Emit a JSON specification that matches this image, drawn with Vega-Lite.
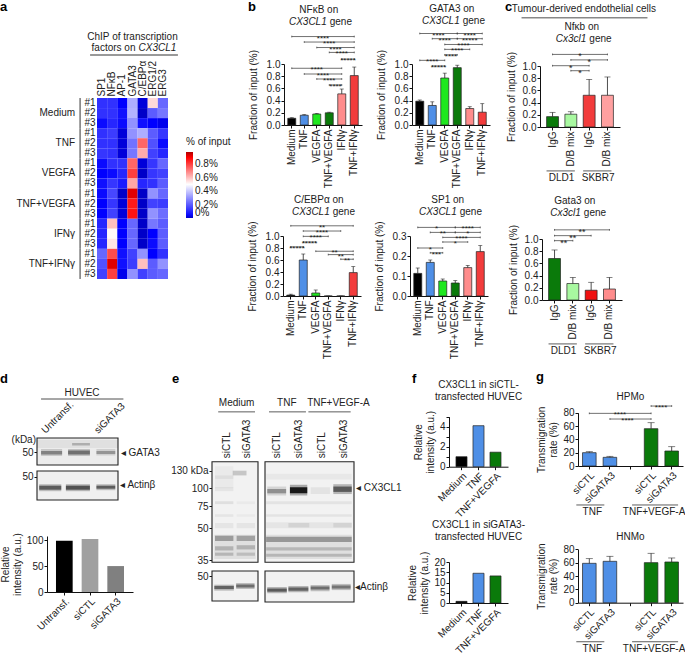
{"$schema":"https://vega.github.io/schema/vega-lite/v6.json","padding":0,"background":"#ffffff","columns":5,"align":"none","bounds":"flush","spacing":0,"center":false,
"resolve":{"scale":{"color":"independent"}},
"config":{"font":"Liberation Sans","view":{"stroke":null},"text":{"fontSize":10,"color":"#222222"},"axis":{"grid":false,"domainColor":"#111111","tickColor":"#111111","labelColor":"#222222","titleColor":"#222222","labelFontSize":10,"titleFontSize":10,"titleFontWeight":"normal","tickSize":3,"labelPadding":1,"labelLimit":0},"legend":{"labelFontSize":10,"titleFontSize":10,"titleFontWeight":"normal","labelColor":"#222222","titleColor":"#222222"},"title":{"color":"#000000","fontWeight":"bold","fontSize":13,"anchor":"start","frame":"group"}},
"datasets":{
"heat":[
{"row":"Medium #1","tf":"SP1","v":0.12},{"row":"Medium #1","tf":"NFκB","v":0.12},{"row":"Medium #1","tf":"AP-1","v":0.03},{"row":"Medium #1","tf":"GATA3","v":0.35},{"row":"Medium #1","tf":"C/EBPα","v":0.01},{"row":"Medium #1","tf":"ERG1/2","v":0.56},{"row":"Medium #1","tf":"ERG3","v":0.22},
{"row":"Medium #2","tf":"SP1","v":0.12},{"row":"Medium #2","tf":"NFκB","v":0.12},{"row":"Medium #2","tf":"AP-1","v":0.06},{"row":"Medium #2","tf":"GATA3","v":0.36},{"row":"Medium #2","tf":"C/EBPα","v":0.0},{"row":"Medium #2","tf":"ERG1/2","v":0.2},{"row":"Medium #2","tf":"ERG3","v":0.25},
{"row":"Medium #3","tf":"SP1","v":0.05},{"row":"Medium #3","tf":"NFκB","v":0.1},{"row":"Medium #3","tf":"AP-1","v":0.05},{"row":"Medium #3","tf":"GATA3","v":0.3},{"row":"Medium #3","tf":"C/EBPα","v":0.06},{"row":"Medium #3","tf":"ERG1/2","v":0.03},{"row":"Medium #3","tf":"ERG3","v":0.02},
{"row":"TNF #1","tf":"SP1","v":0.12},{"row":"TNF #1","tf":"NFκB","v":0.14},{"row":"TNF #1","tf":"AP-1","v":0.01},{"row":"TNF #1","tf":"GATA3","v":0.3},{"row":"TNF #1","tf":"C/EBPα","v":0.35},{"row":"TNF #1","tf":"ERG1/2","v":0.2},{"row":"TNF #1","tf":"ERG3","v":0.13},
{"row":"TNF #2","tf":"SP1","v":0.12},{"row":"TNF #2","tf":"NFκB","v":0.12},{"row":"TNF #2","tf":"AP-1","v":0.01},{"row":"TNF #2","tf":"GATA3","v":0.24},{"row":"TNF #2","tf":"C/EBPα","v":0.74},{"row":"TNF #2","tf":"ERG1/2","v":0.18},{"row":"TNF #2","tf":"ERG3","v":0.05},
{"row":"TNF #3","tf":"SP1","v":0.13},{"row":"TNF #3","tf":"NFκB","v":0.12},{"row":"TNF #3","tf":"AP-1","v":0.01},{"row":"TNF #3","tf":"GATA3","v":0.25},{"row":"TNF #3","tf":"C/EBPα","v":0.63},{"row":"TNF #3","tf":"ERG1/2","v":0.15},{"row":"TNF #3","tf":"ERG3","v":0.1},
{"row":"VEGFA #1","tf":"SP1","v":0.05},{"row":"VEGFA #1","tf":"NFκB","v":0.12},{"row":"VEGFA #1","tf":"AP-1","v":0.12},{"row":"VEGFA #1","tf":"GATA3","v":0.74},{"row":"VEGFA #1","tf":"C/EBPα","v":0.01},{"row":"VEGFA #1","tf":"ERG1/2","v":0.13},{"row":"VEGFA #1","tf":"ERG3","v":0.22},
{"row":"VEGFA #2","tf":"SP1","v":0.03},{"row":"VEGFA #2","tf":"NFκB","v":0.05},{"row":"VEGFA #2","tf":"AP-1","v":0.1},{"row":"VEGFA #2","tf":"GATA3","v":0.8},{"row":"VEGFA #2","tf":"C/EBPα","v":0.0},{"row":"VEGFA #2","tf":"ERG1/2","v":0.13},{"row":"VEGFA #2","tf":"ERG3","v":0.15},
{"row":"VEGFA #3","tf":"SP1","v":0.06},{"row":"VEGFA #3","tf":"NFκB","v":0.13},{"row":"VEGFA #3","tf":"AP-1","v":0.08},{"row":"VEGFA #3","tf":"GATA3","v":0.64},{"row":"VEGFA #3","tf":"C/EBPα","v":0.1},{"row":"VEGFA #3","tf":"ERG1/2","v":0.12},{"row":"VEGFA #3","tf":"ERG3","v":0.2},
{"row":"TNF+VEGFA #1","tf":"SP1","v":0.05},{"row":"TNF+VEGFA #1","tf":"NFκB","v":0.16},{"row":"TNF+VEGFA #1","tf":"AP-1","v":0.0},{"row":"TNF+VEGFA #1","tf":"GATA3","v":0.93},{"row":"TNF+VEGFA #1","tf":"C/EBPα","v":0.0},{"row":"TNF+VEGFA #1","tf":"ERG1/2","v":0.3},{"row":"TNF+VEGFA #1","tf":"ERG3","v":0.22},
{"row":"TNF+VEGFA #2","tf":"SP1","v":0.03},{"row":"TNF+VEGFA #2","tf":"NFκB","v":0.13},{"row":"TNF+VEGFA #2","tf":"AP-1","v":0.01},{"row":"TNF+VEGFA #2","tf":"GATA3","v":0.86},{"row":"TNF+VEGFA #2","tf":"C/EBPα","v":0.0},{"row":"TNF+VEGFA #2","tf":"ERG1/2","v":0.15},{"row":"TNF+VEGFA #2","tf":"ERG3","v":0.14},
{"row":"TNF+VEGFA #3","tf":"SP1","v":0.03},{"row":"TNF+VEGFA #3","tf":"NFκB","v":0.15},{"row":"TNF+VEGFA #3","tf":"AP-1","v":0.01},{"row":"TNF+VEGFA #3","tf":"GATA3","v":0.87},{"row":"TNF+VEGFA #3","tf":"C/EBPα","v":0.0},{"row":"TNF+VEGFA #3","tf":"ERG1/2","v":0.3},{"row":"TNF+VEGFA #3","tf":"ERG3","v":0.23},
{"row":"IFNγ #1","tf":"SP1","v":0.1},{"row":"IFNγ #1","tf":"NFκB","v":0.6},{"row":"IFNγ #1","tf":"AP-1","v":0.03},{"row":"IFNγ #1","tf":"GATA3","v":0.22},{"row":"IFNγ #1","tf":"C/EBPα","v":0.0},{"row":"IFNγ #1","tf":"ERG1/2","v":0.25},{"row":"IFNγ #1","tf":"ERG3","v":0.2},
{"row":"IFNγ #2","tf":"SP1","v":0.1},{"row":"IFNγ #2","tf":"NFκB","v":0.51},{"row":"IFNγ #2","tf":"AP-1","v":0.03},{"row":"IFNγ #2","tf":"GATA3","v":0.22},{"row":"IFNγ #2","tf":"C/EBPα","v":0.0},{"row":"IFNγ #2","tf":"ERG1/2","v":0.03},{"row":"IFNγ #2","tf":"ERG3","v":0.2},
{"row":"IFNγ #3","tf":"SP1","v":0.1},{"row":"IFNγ #3","tf":"NFκB","v":0.54},{"row":"IFNγ #3","tf":"AP-1","v":0.03},{"row":"IFNγ #3","tf":"GATA3","v":0.22},{"row":"IFNγ #3","tf":"C/EBPα","v":0.0},{"row":"IFNγ #3","tf":"ERG1/2","v":0.05},{"row":"IFNγ #3","tf":"ERG3","v":0.2},
{"row":"TNF+IFNγ #1","tf":"SP1","v":0.22},{"row":"TNF+IFNγ #1","tf":"NFκB","v":0.78},{"row":"TNF+IFNγ #1","tf":"AP-1","v":0.06},{"row":"TNF+IFNγ #1","tf":"GATA3","v":0.15},{"row":"TNF+IFNγ #1","tf":"C/EBPα","v":0.3},{"row":"TNF+IFNγ #1","tf":"ERG1/2","v":0.03},{"row":"TNF+IFNγ #1","tf":"ERG3","v":0.12},
{"row":"TNF+IFNγ #2","tf":"SP1","v":0.18},{"row":"TNF+IFNγ #2","tf":"NFκB","v":0.93},{"row":"TNF+IFNγ #2","tf":"AP-1","v":0.06},{"row":"TNF+IFNγ #2","tf":"GATA3","v":0.14},{"row":"TNF+IFNγ #2","tf":"C/EBPα","v":0.6},{"row":"TNF+IFNγ #2","tf":"ERG1/2","v":0.2},{"row":"TNF+IFNγ #2","tf":"ERG3","v":0.3},
{"row":"TNF+IFNγ #3","tf":"SP1","v":0.15},{"row":"TNF+IFNγ #3","tf":"NFκB","v":0.8},{"row":"TNF+IFNγ #3","tf":"AP-1","v":0.02},{"row":"TNF+IFNγ #3","tf":"GATA3","v":0.3},{"row":"TNF+IFNγ #3","tf":"C/EBPα","v":0.15},{"row":"TNF+IFNγ #3","tf":"ERG1/2","v":0.2},{"row":"TNF+IFNγ #3","tf":"ERG3","v":0.22}],
"heatBr":[{"row":"Medium #1","end":"Medium #3","tf":"SP1"},{"row":"TNF #1","end":"TNF #3","tf":"SP1"},{"row":"VEGFA #1","end":"VEGFA #3","tf":"SP1"},{"row":"TNF+VEGFA #1","end":"TNF+VEGFA #3","tf":"SP1"},{"row":"IFNγ #1","end":"IFNγ #3","tf":"SP1"},{"row":"TNF+IFNγ #1","end":"TNF+IFNγ #3","tf":"SP1"}],
"heatG":[{"row":"Medium #2","tf":"SP1","g":"Medium"},{"row":"TNF #2","tf":"SP1","g":"TNF"},{"row":"VEGFA #2","tf":"SP1","g":"VEGFA"},{"row":"TNF+VEGFA #2","tf":"SP1","g":"TNF+VEGFA"},{"row":"IFNγ #2","tf":"SP1","g":"IFNγ"},{"row":"TNF+IFNγ #2","tf":"SP1","g":"TNF+IFNγ"}],
"heatT":[{"row":"Medium #1","tf":"GATA3","a":"ChIP of transcription","b":"factors on","c":"CX3CL1"}],
"heatL":[{"row":"Medium #1","tf":"SP1","tf2":"ERG3"}],
"b1":[{"x":"Medium","y":0.11,"hi":0.12},{"x":"TNF","y":0.16,"hi":0.17},{"x":"VEGFA","y":0.18,"hi":0.19},{"x":"TNF+VEGFA","y":0.2,"hi":0.21},{"x":"IFNγ","y":0.51,"hi":0.59},{"x":"TNF+IFNγ","y":0.81,"hi":0.95}],
"b1b":[{"id":1,"x":"Medium","y":1.45},{"id":1,"x":"TNF+IFNγ","y":1.45},{"id":2,"x":"TNF","y":1.36},{"id":2,"x":"TNF+IFNγ","y":1.36},{"id":3,"x":"VEGFA","y":1.27},{"id":3,"x":"TNF+IFNγ","y":1.27},{"id":4,"x":"TNF+VEGFA","y":1.19},{"id":4,"x":"TNF+IFNγ","y":1.19},{"id":5,"x":"IFNγ","y":1.08},{"id":5,"x":"TNF+IFNγ","y":1.08},{"id":6,"x":"Medium","y":0.93},{"id":6,"x":"IFNγ","y":0.93},{"id":7,"x":"TNF","y":0.836},{"id":7,"x":"IFNγ","y":0.836},{"id":8,"x":"VEGFA","y":0.754},{"id":8,"x":"IFNγ","y":0.754},{"id":9,"x":"TNF+VEGFA","y":0.656},{"id":9,"x":"IFNγ","y":0.656}],
"b1s":[{"x":"VEGFA","y":1.45,"s":"****","h":true},{"x":"TNF+VEGFA","y":1.36,"s":"****","h":false},{"x":"TNF+VEGFA","y":1.27,"s":"****","h":true},{"x":"IFNγ","y":1.19,"s":"****","h":false},{"x":"IFNγ","y":1.08,"s":"*****","h":true},{"x":"VEGFA","y":0.93,"s":"****","h":false},{"x":"VEGFA","y":0.836,"s":"****","h":true},{"x":"TNF+VEGFA","y":0.754,"s":"****","h":false},{"x":"TNF+VEGFA","y":0.656,"s":"****","h":true}],
"b1t":[{"x":"VEGFA","y":1.89,"a":"NFκB on","b":"CX3CL1"}],
"b2":[{"x":"Medium","y":0.39,"hi":0.41},{"x":"TNF","y":0.32,"hi":0.38},{"x":"VEGFA","y":0.77,"hi":0.85},{"x":"TNF+VEGFA","y":0.94,"hi":0.98},{"x":"IFNγ","y":0.27,"hi":0.3},{"x":"TNF+IFNγ","y":0.21,"hi":0.35}],
"b2b":[{"id":1,"x":"Medium","y":1.5},{"id":1,"x":"TNF+VEGFA","y":1.5},{"id":2,"x":"TNF+VEGFA","y":1.5},{"id":2,"x":"TNF+IFNγ","y":1.5},{"id":3,"x":"TNF","y":1.415},{"id":3,"x":"TNF+VEGFA","y":1.415},{"id":4,"x":"TNF+VEGFA","y":1.415},{"id":4,"x":"TNF+IFNγ","y":1.415},{"id":5,"x":"VEGFA","y":1.32},{"id":5,"x":"TNF+IFNγ","y":1.32},{"id":6,"x":"VEGFA","y":1.24},{"id":6,"x":"IFNγ","y":1.24},{"id":7,"x":"VEGFA","y":1.15},{"id":7,"x":"TNF+VEGFA","y":1.15},{"id":8,"x":"Medium","y":1.06},{"id":8,"x":"VEGFA","y":1.06},{"id":9,"x":"TNF","y":0.967},{"id":9,"x":"VEGFA","y":0.967}],
"b2s":[{"x":"TNF","y":1.5,"s":"****","h":true},{"x":"IFNγ","y":1.5,"s":"****","h":false},{"x":"VEGFA","y":1.415,"s":"****","h":false},{"x":"IFNγ","y":1.415,"s":"*****","h":false},{"x":"TNF+VEGFA","y":1.32,"s":"****","h":true},{"x":"TNF+VEGFA","y":1.24,"s":"****","h":false},{"x":"VEGFA","y":1.15,"s":"****","h":true},{"x":"TNF","y":1.06,"s":"****","h":false},{"x":"TNF","y":0.967,"s":"*****","h":true}],
"b2t":[{"x":"VEGFA","y":1.895,"a":"GATA3 on","b":"CX3CL1"}],
"b3":[{"x":"Medium","y":0.015,"hi":0.03},{"x":"TNF","y":0.6,"hi":0.7},{"x":"VEGFA","y":0.05,"hi":0.1},{"x":"TNF+VEGFA","y":0,"hi":0},{"x":"IFNγ","y":0,"hi":0},{"x":"TNF+IFNγ","y":0.39,"hi":0.49}],
"b3b":[{"id":1,"x":"Medium","y":1.17},{"id":1,"x":"TNF+IFNγ","y":1.17},{"id":2,"x":"TNF","y":1.083},{"id":2,"x":"IFNγ","y":1.083},{"id":3,"x":"TNF","y":0.994},{"id":3,"x":"TNF+VEGFA","y":0.994},{"id":4,"x":"TNF","y":0.9},{"id":4,"x":"VEGFA","y":0.9},{"id":5,"x":"Medium","y":0.818},{"id":5,"x":"TNF","y":0.818},{"id":6,"x":"VEGFA","y":0.746},{"id":6,"x":"TNF+IFNγ","y":0.746},{"id":7,"x":"TNF+VEGFA","y":0.69},{"id":7,"x":"TNF+IFNγ","y":0.69},{"id":8,"x":"IFNγ","y":0.613},{"id":8,"x":"TNF+IFNγ","y":0.613}],
"b3s":[{"x":"VEGFA","y":1.17,"s":"**","h":true},{"x":"VEGFA","y":1.083,"s":"****","h":true},{"x":"VEGFA","y":0.994,"s":"****","h":false},{"x":"TNF","y":0.9,"s":"*****","h":true},{"x":"Medium","y":0.818,"s":"*****","h":true},{"x":"TNF+VEGFA","y":0.746,"s":"**","h":true},{"x":"IFNγ","y":0.69,"s":"**","h":false},{"x":"IFNγ","y":0.613,"s":"**","h":true}],
"b3t":[{"x":"VEGFA","y":1.6,"a":"C/EBPα on","b":"CX3CL1"}],
"b4":[{"x":"Medium","y":0.113,"hi":0.14},{"x":"TNF","y":0.168,"hi":0.18},{"x":"VEGFA","y":0.075,"hi":0.085},{"x":"TNF+VEGFA","y":0.065,"hi":0.077},{"x":"IFNγ","y":0.142,"hi":0.153},{"x":"TNF+IFNγ","y":0.222,"hi":0.252}],
"b4b":[{"id":1,"x":"Medium","y":0.343},{"id":1,"x":"TNF+VEGFA","y":0.343},{"id":2,"x":"TNF+VEGFA","y":0.343},{"id":2,"x":"TNF+IFNγ","y":0.343},{"id":3,"x":"TNF","y":0.318},{"id":3,"x":"TNF+VEGFA","y":0.318},{"id":4,"x":"TNF+VEGFA","y":0.318},{"id":4,"x":"TNF+IFNγ","y":0.318},{"id":5,"x":"VEGFA","y":0.293},{"id":5,"x":"TNF+IFNγ","y":0.293},{"id":6,"x":"VEGFA","y":0.27},{"id":6,"x":"IFNγ","y":0.27},{"id":7,"x":"Medium","y":0.24},{"id":7,"x":"VEGFA","y":0.24},{"id":8,"x":"TNF","y":0.216},{"id":8,"x":"VEGFA","y":0.216}],
"b4s":[{"x":"TNF","y":0.343,"s":"*","h":true},{"x":"IFNγ","y":0.343,"s":"****","h":false},{"x":"VEGFA","y":0.318,"s":"**","h":false},{"x":"IFNγ","y":0.318,"s":"*","h":false},{"x":"TNF+VEGFA","y":0.293,"s":"****","h":true},{"x":"TNF+VEGFA","y":0.27,"s":"*","h":false},{"x":"TNF","y":0.24,"s":"*","h":false},{"x":"TNF","y":0.216,"s":"***","h":true}],
"b4t":[{"x":"VEGFA","y":0.48,"a":"SP1 on","b":"CX3CL1"}],
"c1":[{"x":"DLD1|IgG","y":0.17,"hi":0.24},{"x":"DLD1|D/B mix","y":0.21,"hi":0.25},{"x":"SKBR7|IgG","y":0.52,"hi":0.78},{"x":"SKBR7|D/B mix","y":0.52,"hi":0.82}],
"c1b":[{"id":1,"x":"DLD1|IgG","y":1.19},{"id":1,"x":"SKBR7|D/B mix","y":1.19},{"id":2,"x":"DLD1|D/B mix","y":1.1},{"id":2,"x":"SKBR7|D/B mix","y":1.1},{"id":3,"x":"DLD1|IgG","y":1.005},{"id":3,"x":"SKBR7|IgG","y":1.005},{"id":4,"x":"DLD1|D/B mix","y":0.923},{"id":4,"x":"SKBR7|IgG","y":0.923}],
"c1s":[{"x":"DLD1|D/B mix","y":1.19,"s":"*","h":true},{"x":"SKBR7|IgG","y":1.1,"s":"*","h":false},{"x":"DLD1|D/B mix","y":1.005,"s":"*","h":false},{"x":"DLD1|D/B mix","y":0.923,"s":"*","h":true}],
"c1t":[{"x":"DLD1|D/B mix","y":1.64,"a":"Nfκb on","b":"Cx3cl1"}],
"c1top":[{"x":"DLD1|D/B mix","y":1.93,"a":"Tumour-derived endothelial cells"}],
"c1line":[{"x":"DLD1|IgG","x2":"SKBR7|D/B mix","y":1.79}],
"c2":[{"x":"DLD1|IgG","y":0.68,"hi":0.82},{"x":"DLD1|D/B mix","y":0.27,"hi":0.37},{"x":"SKBR7|IgG","y":0.16,"hi":0.29},{"x":"SKBR7|D/B mix","y":0.18,"hi":0.37}],
"c2b":[{"id":1,"x":"DLD1|IgG","y":1.15},{"id":1,"x":"SKBR7|D/B mix","y":1.15},{"id":2,"x":"DLD1|IgG","y":1.055},{"id":2,"x":"SKBR7|IgG","y":1.055},{"id":3,"x":"DLD1|IgG","y":0.973},{"id":3,"x":"DLD1|D/B mix","y":0.973}],
"c2s":[{"x":"DLD1|D/B mix","y":1.15,"s":"**","h":true},{"x":"DLD1|D/B mix","y":1.055,"s":"**","h":false},{"x":"DLD1|IgG","y":0.973,"s":"**","h":true}],
"c2t":[{"x":"DLD1|D/B mix","y":1.63,"a":"Gata3 on","b":"Cx3cl1"}],
"cG":[{"x":"DLD1|IgG","x2":"DLD1|D/B mix","y":-0.72},{"x":"SKBR7|IgG","x2":"SKBR7|D/B mix","y":-0.72}],
"cGt":[{"x":"DLD1|IgG","y":-0.836,"s":"DLD1"},{"x":"SKBR7|IgG","y":-0.836,"s":"SKBR7"}],
"d1f":[{"x":0,"x2":3,"y":64,"y2":37}],
"d1":[{"x":0.15,"x2":0.93,"y":53,"y2":46,"i":0.15},{"x":0.15,"x2":0.93,"y":51,"y2":47.5,"i":0.35},{"x":1.15,"x2":1.96,"y":53,"y2":46,"i":0.18},{"x":1.15,"x2":1.96,"y":51.5,"y2":47.5,"i":0.42},{"x":1.3,"x2":1.96,"y":59,"y2":56.5,"i":0.22},{"x":2.2,"x2":2.9,"y":53,"y2":46.5,"i":0.12},{"x":2.2,"x2":2.9,"y":51,"y2":48,"i":0.28},{"x":0,"x2":3,"y":62,"y2":54,"i":0.05}],
"d1t":[{"x":3.1,"y":49.3,"s":"◂ GATA3"}],
"d1k":[{"x":0,"y":62,"s":"(kDa)"}],
"d1h":[{"x":1.67,"y":109.3,"s":"HUVEC"}],
"d1l":[{"x":0.15,"x2":3.2,"y":103}],
"d2f":[{"x":0,"x2":3,"y":55.7,"y2":26.7}],
"d2":[{"x":0.08,"x2":0.9,"y":42.5,"y2":35.5,"i":0.22},{"x":0.08,"x2":0.9,"y":41,"y2":37,"i":0.5},{"x":1.07,"x2":1.96,"y":42.5,"y2":35.5,"i":0.25},{"x":1.07,"x2":1.96,"y":41,"y2":37,"i":0.55},{"x":2.2,"x2":2.9,"y":42.5,"y2":36.5,"i":0.22},{"x":2.2,"x2":2.9,"y":41,"y2":38,"i":0.5}],
"d2t":[{"x":3.08,"y":41.4,"s":"◂ Actinβ"}],
"d3":[{"x":"Untransf.","y":99},{"x":"siCTL","y":102},{"x":"siGATA3","y":50}],
"eLf":[{"x":0,"x2":2,"y":150,"y2":34}],
"eL":[{"x":0.1,"x2":1.9,"y":47,"y2":35.5,"i":0.08},{"x":0.13,"x2":0.93,"y":140,"y2":100,"i":0.03},{"x":0.13,"x2":0.93,"y":122,"y2":116,"i":0.05},{"x":0.13,"x2":0.93,"y":102,"y2":96,"i":0.05},{"x":0.13,"x2":0.93,"y":82,"y2":78,"i":0.08},{"x":0.13,"x2":0.93,"y":66,"y2":63,"i":0.05},{"x":0.13,"x2":0.93,"y":56,"y2":50,"i":0.05},{"x":1.07,"x2":1.87,"y":82,"y2":78,"i":0.03},{"x":1.07,"x2":1.87,"y":66,"y2":63,"i":0.03},{"x":1.07,"x2":1.87,"y":56,"y2":50,"i":0.05},{"x":0.13,"x2":0.93,"y":46.5,"y2":44,"i":0.3},{"x":1.07,"x2":1.87,"y":46.5,"y2":44,"i":0.28},{"x":0.13,"x2":0.93,"y":41.5,"y2":39.5,"i":0.2},{"x":1.07,"x2":1.87,"y":42,"y2":40,"i":0.2},{"x":0.13,"x2":0.93,"y":38.5,"y2":37,"i":0.18},{"x":1.07,"x2":1.87,"y":38.5,"y2":37,"i":0.15},{"x":0.9,"x2":1.5,"y":130,"y2":122,"i":0.18}],
"eLh":[{"x":1.07,"y":300,"s":"Medium"}],
"eLl":[{"x":0.27,"x2":1.87,"y":278}],
"eRf":[{"x":0,"x2":4,"y":150,"y2":34}],
"eR":[{"x":0.05,"x2":3.9,"y":47,"y2":35.5,"i":0.08},{"x":0.05,"x2":3.9,"y":46,"y2":43.5,"i":0.32},{"x":0.05,"x2":3.9,"y":41,"y2":39.5,"i":0.18},{"x":0.05,"x2":3.9,"y":38,"y2":36.5,"i":0.18},{"x":0.05,"x2":3.9,"y":82,"y2":78,"i":0.06},{"x":0.05,"x2":3.9,"y":66,"y2":63,"i":0.06},{"x":0.05,"x2":3.9,"y":57,"y2":50,"i":0.05},{"x":1.05,"x2":1.99,"y":56,"y2":51,"i":0.08},{"x":3.07,"x2":3.9,"y":56,"y2":51,"i":0.08},{"x":0.05,"x2":3.9,"y":125,"y2":115,"i":0.04},{"x":0.1,"x2":0.95,"y":103,"y2":90,"i":0.12},{"x":0.1,"x2":0.95,"y":99,"y2":93,"i":0.32},{"x":1.12,"x2":1.9,"y":106,"y2":90,"i":0.3},{"x":1.12,"x2":1.9,"y":102,"y2":93,"i":0.85},{"x":2.05,"x2":2.92,"y":102,"y2":92,"i":0.06},{"x":3.07,"x2":3.9,"y":107,"y2":92,"i":0.25},{"x":3.07,"x2":3.9,"y":103,"y2":95,"i":0.5}],
"eRt":[{"x":4.09,"y":100,"s":"◂ CX3CL1"}],
"eRh":[{"x":0.98,"y":300,"s":"TNF"},{"x":3.3,"y":300,"s":"TNF+VEGF-A"}],
"eRl":[{"x":0.18,"x2":1.84,"y":278},{"x":1.95,"x2":3.85,"y":278}],
"eLaf":[{"x":0,"x2":2,"y":55,"y2":25}],
"eLa":[{"x":0.1,"x2":0.95,"y":41.3,"y2":35.4,"i":0.25},{"x":0.1,"x2":0.95,"y":40,"y2":37,"i":0.45},{"x":1.05,"x2":1.85,"y":43,"y2":37,"i":0.22},{"x":1.05,"x2":1.85,"y":41.5,"y2":38.5,"i":0.42}],
"eRaf":[{"x":0,"x2":4,"y":55,"y2":25}],
"eRa":[{"x":0.1,"x2":0.98,"y":39.5,"y2":33.5,"i":0.25},{"x":0.1,"x2":0.98,"y":38,"y2":35,"i":0.5},{"x":1.05,"x2":1.95,"y":40.5,"y2":34.5,"i":0.25},{"x":1.05,"x2":1.95,"y":39,"y2":36,"i":0.45},{"x":2.05,"x2":2.9,"y":41.5,"y2":35.5,"i":0.22},{"x":2.05,"x2":2.9,"y":40,"y2":37,"i":0.42},{"x":3,"x2":3.85,"y":42.5,"y2":36.5,"i":0.22},{"x":3,"x2":3.85,"y":41,"y2":38,"i":0.38}],
"eRat":[{"x":4.05,"y":39.5,"s":"◂Actinβ"}],
"f1":[{"x":"Medium","y":1},{"x":"TNF","y":4.1},{"x":"TNF+VEGFA","y":1.45}],
"f1t":[{"x":"TNF","y":8.17,"a":"CX3CL1 in siCTL-","b":"transfected HUVEC"}],
"f2":[{"x":"Medium","y":0.8},{"x":"TNF","y":14.5},{"x":"TNF+VEGFA","y":13.2}],
"f2t":[{"x":"TNF","y":38,"a":"CX3CL1 in siGATA3-","b":"transfected HUVEC"}],
"g1":[{"x":"TNF|siCTL","y":20,"hi":21.5},{"x":"TNF|siGATA3","y":13,"hi":14.5},{"x":"TNF+VEGF-A|siCTL","y":56,"hi":65},{"x":"TNF+VEGF-A|siGATA3","y":22.5,"hi":29}],
"g1b":[{"id":1,"x":"TNF|siCTL","y":79},{"id":1,"x":"TNF+VEGF-A|siCTL","y":79},{"id":2,"x":"TNF|siGATA3","y":70.5},{"id":2,"x":"TNF+VEGF-A|siCTL","y":70.5},{"id":3,"x":"TNF+VEGF-A|siCTL","y":90},{"id":3,"x":"TNF+VEGF-A|siGATA3","y":90}],
"g1s":[{"x":"TNF|siGATA3","y":79,"s":"****","h":true},{"x":" |","y":70.5,"s":"****","h":false},{"x":"TNF+VEGF-A|siCTL","y":90,"s":"****","h":true}],
"g1t":[{"x":" |","y":104,"a":"HPMo"}],
"g2":[{"x":"TNF|siCTL","y":59,"hi":66},{"x":"TNF|siGATA3","y":62,"hi":69.5},{"x":"TNF+VEGF-A|siCTL","y":60,"hi":74},{"x":"TNF+VEGF-A|siGATA3","y":61,"hi":67}],
"g2t":[{"x":" |","y":99,"a":"HNMo"}],
"gG1":[{"x":"TNF|siCTL","x2":"TNF|siCTL","y":-58.5}],
"gG2":[{"x":"TNF+VEGF-A|siCTL","x2":"TNF+VEGF-A|siCTL","y":-58.5}],
"gGt":[{"x":"TNF|siCTL","y":-69,"s":"TNF"},{"x":"TNF+VEGF-A|siCTL","y":-69,"s":"TNF+VEGF-A"}]
},
"concat":[
{"width":190,"height":165,"title":{"text":"a","offset":-14},
"encoding":{"x":{"field":"tf","type":"nominal","scale":{"type":"band","domain":["SP1","NFκB","AP-1","GATA3","C/EBPα","ERG1/2","ERG3"],"range":[97,168]},"axis":{"orient":"top","title":null,"offset":-98,"labelAngle":270,"domain":false,"ticks":false,"labelPadding":2}},
"y":{"field":"row","type":"nominal","scale":{"type":"band","domain":["Medium #1","Medium #2","Medium #3","TNF #1","TNF #2","TNF #3","VEGFA #1","VEGFA #2","VEGFA #3","TNF+VEGFA #1","TNF+VEGFA #2","TNF+VEGFA #3","IFNγ #1","IFNγ #2","IFNγ #3","TNF+IFNγ #1","TNF+IFNγ #2","TNF+IFNγ #3"],"range":[98,279]},"axis":{"title":null,"offset":-97,"domain":false,"ticks":false,"labelPadding":2,"labelExpr":"slice(datum.label,-2)"}}},
"layer":[
{"data":{"name":"heat"},"mark":{"type":"rect"},"encoding":{"color":{"field":"v","type":"quantitative","scale":{"domain":[0,0.03,0.5,0.9,0.98],"range":["#0000c8","#0000ff","#ffffff","#ff0000","#b00000"],"interpolate":"rgb"},"legend":{"title":"% of input","orient":"none","legendX":186,"legendY":137,"gradientLength":66,"gradientThickness":7,"values":[0,0.2,0.4,0.6,0.8],"labelExpr":"datum.value+'%'","labelOverlap":false}}}},
{"data":{"name":"heatBr"},"mark":{"type":"rule","color":"#333333","strokeWidth":1,"xOffset":-22,"yOffset":-5,"y2Offset":5},"encoding":{"y2":{"field":"end"}}},
{"data":{"name":"heatG"},"mark":{"type":"text","align":"right","dx":-27},"encoding":{"text":{"field":"g"}}},
{"data":{"name":"heatT"},"mark":{"type":"text","dy":-66},"encoding":{"text":{"field":"a"}}},
{"data":{"name":"heatT"},"mark":{"type":"text","dy":-55,"dx":3,"align":"right"},"encoding":{"text":{"field":"b"}}},
{"data":{"name":"heatT"},"mark":{"type":"text","dy":-55,"dx":6,"align":"left","fontStyle":"italic"},"encoding":{"text":{"field":"c"}}},
{"data":{"name":"heatL"},"mark":{"type":"rule","color":"#777777","strokeWidth":1.5,"xOffset":-12,"x2Offset":15,"yOffset":-48},"encoding":{"x2":{"field":"tf2"}}}
]},
{"width":72,"height":165,"data":{"values":[{"a":1}]},"mark":{"type":"point","opacity":0},"encoding":{}},
{"width":138,"height":165,"title":{"text":"b","offset":-14,"dx":-14},
"encoding":{"x":{"field":"x","type":"nominal","scale":{"type":"band","domain":["Medium","TNF","VEGFA","TNF+VEGFA","IFNγ","TNF+IFNγ"],"range":[22,100],"paddingInner":0.36,"paddingOuter":0.3},"axis":{"title":null,"labelAngle":270,"offset":-40}},
"y":{"field":"y","type":"quantitative","stack":null,"scale":{"domain":[0,1],"range":[125,64]},"axis":{"title":"Fraction of input (%)","values":[0,0.2,0.4,0.6,0.8,1],"format":".1f","offset":-22,"titlePadding":8}}},
"layer":[
{"data":{"name":"b1"},"mark":{"type":"bar","stroke":"#222222","strokeWidth":0.7},"encoding":{"color":{"field":"x","type":"nominal","scale":{"domain":["Medium","TNF","VEGFA","TNF+VEGFA","IFNγ","TNF+IFNγ"],"range":["#000000","#4f8fe6","#1fe81f","#0a7a0a","#ff8c8c","#f23c3c"]},"legend":null}}},
{"data":{"name":"b1"},"mark":{"type":"rule","color":"#222222","strokeWidth":0.8},"encoding":{"y2":{"field":"hi"}}},
{"data":{"name":"b1"},"mark":{"type":"tick","orient":"horizontal","size":4,"thickness":0.8,"color":"#222222"},"encoding":{"y":{"field":"hi","type":"quantitative","scale":{"domain":[0,1]}}}},
{"data":{"name":"b1b"},"mark":{"type":"line","color":"#333333","strokeWidth":0.7,"point":{"shape":"M0,-0.5L0,0.5","size":12,"filled":false,"stroke":"#333333","strokeWidth":0.7}},"encoding":{"detail":{"field":"id"}}},
{"data":{"name":"b1s"},"transform":[{"filter":"!datum.h"}],"mark":{"type":"text","fontSize":8,"dy":2},"encoding":{"text":{"field":"s"}}},
{"data":{"name":"b1s"},"transform":[{"filter":"datum.h"}],"mark":{"type":"text","fontSize":8,"dy":2,"dx":6.25},"encoding":{"text":{"field":"s"}}},
{"data":{"name":"b1t"},"mark":{"type":"text","dx":2},"encoding":{"text":{"field":"a"}}},
{"data":{"name":"b1t"},"mark":{"type":"text","dx":10,"dy":12,"align":"right","fontStyle":"italic"},"encoding":{"text":{"field":"b"}}},
{"data":{"name":"b1t"},"mark":{"type":"text","dx":13,"dy":12,"align":"left","text":"gene"},"encoding":{}}
]},
{"width":135,"height":165,
"encoding":{"x":{"field":"x","type":"nominal","scale":{"type":"band","domain":["Medium","TNF","VEGFA","TNF+VEGFA","IFNγ","TNF+IFNγ"],"range":[12,90],"paddingInner":0.36,"paddingOuter":0.3},"axis":{"title":null,"labelAngle":270,"offset":-40}},
"y":{"field":"y","type":"quantitative","stack":null,"scale":{"domain":[0,1],"range":[125,64]},"axis":{"title":"Fraction of input (%)","values":[0,0.2,0.4,0.6,0.8,1],"format":".1f","offset":-12,"titlePadding":8}}},
"layer":[
{"data":{"name":"b2"},"mark":{"type":"bar","stroke":"#222222","strokeWidth":0.7},"encoding":{"color":{"field":"x","type":"nominal","scale":{"domain":["Medium","TNF","VEGFA","TNF+VEGFA","IFNγ","TNF+IFNγ"],"range":["#000000","#4f8fe6","#1fe81f","#0a7a0a","#ff8c8c","#f23c3c"]},"legend":null}}},
{"data":{"name":"b2"},"mark":{"type":"rule","color":"#222222","strokeWidth":0.8},"encoding":{"y2":{"field":"hi"}}},
{"data":{"name":"b2"},"mark":{"type":"tick","orient":"horizontal","size":4,"thickness":0.8,"color":"#222222"},"encoding":{"y":{"field":"hi","type":"quantitative","scale":{"domain":[0,1]}}}},
{"data":{"name":"b2b"},"mark":{"type":"line","color":"#333333","strokeWidth":0.7,"point":{"shape":"M0,-0.5L0,0.5","size":12,"filled":false,"stroke":"#333333","strokeWidth":0.7}},"encoding":{"detail":{"field":"id"}}},
{"data":{"name":"b2s"},"transform":[{"filter":"!datum.h"}],"mark":{"type":"text","fontSize":8,"dy":2},"encoding":{"text":{"field":"s"}}},
{"data":{"name":"b2s"},"transform":[{"filter":"datum.h"}],"mark":{"type":"text","fontSize":8,"dy":2,"dx":6.25},"encoding":{"text":{"field":"s"}}},
{"data":{"name":"b2t"},"mark":{"type":"text","dx":7},"encoding":{"text":{"field":"a"}}},
{"data":{"name":"b2t"},"mark":{"type":"text","dx":15,"dy":12,"align":"right","fontStyle":"italic"},"encoding":{"text":{"field":"b"}}},
{"data":{"name":"b2t"},"mark":{"type":"text","dx":18,"dy":12,"align":"left","text":"gene"},"encoding":{}}
]},
{"width":150,"height":165,"title":{"text":"c","offset":-14,"dx":-30},
"encoding":{"x":{"field":"x","type":"nominal","scale":{"type":"band","domain":["DLD1|IgG","DLD1|D/B mix","SKBR7|IgG","SKBR7|D/B mix"],"range":[5,85],"paddingInner":0.35,"paddingOuter":0.36},"axis":{"title":null,"labelAngle":270,"offset":-38,"labelExpr":"split(datum.label,'|')[1]"}},
"y":{"field":"y","type":"quantitative","stack":null,"scale":{"domain":[0,1],"range":[127,66]},"axis":{"title":"Fraction of input (%)","values":[0,0.2,0.4,0.6,0.8,1],"format":".1f","offset":-5,"titlePadding":6}}},
"layer":[
{"data":{"name":"c1"},"mark":{"type":"bar","stroke":"#222222","strokeWidth":0.7},"encoding":{"color":{"field":"x","type":"nominal","scale":{"domain":["DLD1|IgG","DLD1|D/B mix","SKBR7|IgG","SKBR7|D/B mix"],"range":["#0a7a0a","#a8f8a0","#f23c3c","#ffa0a0"]},"legend":null}}},
{"data":{"name":"c1"},"mark":{"type":"rule","color":"#222222","strokeWidth":0.8},"encoding":{"y2":{"field":"hi"}}},
{"data":{"name":"c1"},"mark":{"type":"tick","orient":"horizontal","size":6,"thickness":0.8,"color":"#222222"},"encoding":{"y":{"field":"hi","type":"quantitative","scale":{"domain":[0,1]}}}},
{"data":{"name":"c1b"},"mark":{"type":"line","color":"#333333","strokeWidth":0.7,"point":{"shape":"M0,-0.5L0,0.5","size":12,"filled":false,"stroke":"#333333","strokeWidth":0.7}},"encoding":{"detail":{"field":"id"}}},
{"data":{"name":"c1s"},"transform":[{"filter":"!datum.h"}],"mark":{"type":"text","fontSize":9,"dy":2},"encoding":{"text":{"field":"s"}}},
{"data":{"name":"c1s"},"transform":[{"filter":"datum.h"}],"mark":{"type":"text","fontSize":9,"dy":2,"dx":9.15},"encoding":{"text":{"field":"s"}}},
{"data":{"name":"c1t"},"mark":{"type":"text","dx":11},"encoding":{"text":{"field":"a"}}},
{"data":{"name":"c1t"},"mark":{"type":"text","dx":15.5,"dy":12,"align":"right","fontStyle":"italic"},"encoding":{"text":{"field":"b"}}},
{"data":{"name":"c1t"},"mark":{"type":"text","dx":18.5,"dy":12,"align":"left","text":"gene"},"encoding":{}},
{"data":{"name":"c1top"},"mark":{"type":"text","dx":13},"encoding":{"text":{"field":"a"}}},
{"data":{"name":"c1line"},"mark":{"type":"rule","color":"#888888","strokeWidth":1.5,"xOffset":-31,"x2Offset":40},"encoding":{"x2":{"field":"x2"}}},
{"data":{"name":"cG"},"mark":{"type":"rule","color":"#333333","strokeWidth":0.8,"xOffset":-6,"x2Offset":4},"encoding":{"x2":{"field":"x2"}}},
{"data":{"name":"cGt"},"mark":{"type":"text","dx":9},"encoding":{"text":{"field":"s"}}}
]},

{"width":190,"height":175,"data":{"values":[{"a":1}]},"mark":{"type":"point","opacity":0},"encoding":{}},
{"width":72,"height":175,"data":{"values":[{"a":1}]},"mark":{"type":"point","opacity":0},"encoding":{}},
{"width":138,"height":175,
"encoding":{"x":{"field":"x","type":"nominal","scale":{"type":"band","domain":["Medium","TNF","VEGFA","TNF+VEGFA","IFNγ","TNF+IFNγ"],"range":[21,99],"paddingInner":0.36,"paddingOuter":0.3},"axis":{"title":null,"labelAngle":270,"offset":-44}},
"y":{"field":"y","type":"quantitative","stack":null,"scale":{"domain":[0,1],"range":[131,71]},"axis":{"title":"Fraction of input (%)","values":[0,0.2,0.4,0.6,0.8,1],"format":".1f","offset":-21,"titlePadding":8}}},
"layer":[
{"data":{"name":"b3"},"mark":{"type":"bar","stroke":"#222222","strokeWidth":0.7},"encoding":{"color":{"field":"x","type":"nominal","scale":{"domain":["Medium","TNF","VEGFA","TNF+VEGFA","IFNγ","TNF+IFNγ"],"range":["#000000","#4f8fe6","#1fe81f","#0a7a0a","#ff8c8c","#f23c3c"]},"legend":null}}},
{"data":{"name":"b3"},"mark":{"type":"rule","color":"#222222","strokeWidth":0.8},"encoding":{"y2":{"field":"hi"}}},
{"data":{"name":"b3"},"mark":{"type":"tick","orient":"horizontal","size":4,"thickness":0.8,"color":"#222222"},"encoding":{"y":{"field":"hi","type":"quantitative","scale":{"domain":[0,1]}}}},
{"data":{"name":"b3b"},"mark":{"type":"line","color":"#333333","strokeWidth":0.7,"point":{"shape":"M0,-0.5L0,0.5","size":12,"filled":false,"stroke":"#333333","strokeWidth":0.7}},"encoding":{"detail":{"field":"id"}}},
{"data":{"name":"b3s"},"transform":[{"filter":"!datum.h"}],"mark":{"type":"text","fontSize":8,"dy":2},"encoding":{"text":{"field":"s"}}},
{"data":{"name":"b3s"},"transform":[{"filter":"datum.h"}],"mark":{"type":"text","fontSize":8,"dy":2,"dx":6.25},"encoding":{"text":{"field":"s"}}},
{"data":{"name":"b3t"},"mark":{"type":"text","dx":3},"encoding":{"text":{"field":"a"}}},
{"data":{"name":"b3t"},"mark":{"type":"text","dx":14,"dy":12,"align":"right","fontStyle":"italic"},"encoding":{"text":{"field":"b"}}},
{"data":{"name":"b3t"},"mark":{"type":"text","dx":17,"dy":12,"align":"left","text":"gene"},"encoding":{}}
]},
{"width":135,"height":175,
"encoding":{"x":{"field":"x","type":"nominal","scale":{"type":"band","domain":["Medium","TNF","VEGFA","TNF+VEGFA","IFNγ","TNF+IFNγ"],"range":[10,88],"paddingInner":0.36,"paddingOuter":0.3},"axis":{"title":null,"labelAngle":270,"offset":-44}},
"y":{"field":"y","type":"quantitative","stack":null,"scale":{"domain":[0,0.3],"range":[131,71]},"axis":{"title":"Fraction of input (%)","values":[0,0.1,0.2,0.3],"format":".1f","offset":-10,"titlePadding":8}}},
"layer":[
{"data":{"name":"b4"},"mark":{"type":"bar","stroke":"#222222","strokeWidth":0.7},"encoding":{"color":{"field":"x","type":"nominal","scale":{"domain":["Medium","TNF","VEGFA","TNF+VEGFA","IFNγ","TNF+IFNγ"],"range":["#000000","#4f8fe6","#1fe81f","#0a7a0a","#ff8c8c","#f23c3c"]},"legend":null}}},
{"data":{"name":"b4"},"mark":{"type":"rule","color":"#222222","strokeWidth":0.8},"encoding":{"y2":{"field":"hi"}}},
{"data":{"name":"b4"},"mark":{"type":"tick","orient":"horizontal","size":4,"thickness":0.8,"color":"#222222"},"encoding":{"y":{"field":"hi","type":"quantitative","scale":{"domain":[0,0.3]}}}},
{"data":{"name":"b4b"},"mark":{"type":"line","color":"#333333","strokeWidth":0.7,"point":{"shape":"M0,-0.5L0,0.5","size":12,"filled":false,"stroke":"#333333","strokeWidth":0.7}},"encoding":{"detail":{"field":"id"}}},
{"data":{"name":"b4s"},"transform":[{"filter":"!datum.h"}],"mark":{"type":"text","fontSize":8,"dy":2},"encoding":{"text":{"field":"s"}}},
{"data":{"name":"b4s"},"transform":[{"filter":"datum.h"}],"mark":{"type":"text","fontSize":8,"dy":2,"dx":6.25},"encoding":{"text":{"field":"s"}}},
{"data":{"name":"b4t"},"mark":{"type":"text","dx":5},"encoding":{"text":{"field":"a"}}},
{"data":{"name":"b4t"},"mark":{"type":"text","dx":14,"dy":12,"align":"right","fontStyle":"italic"},"encoding":{"text":{"field":"b"}}},
{"data":{"name":"b4t"},"mark":{"type":"text","dx":17,"dy":12,"align":"left","text":"gene"},"encoding":{}}
]},
{"width":150,"height":175,
"encoding":{"x":{"field":"x","type":"nominal","scale":{"type":"band","domain":["DLD1|IgG","DLD1|D/B mix","SKBR7|IgG","SKBR7|D/B mix"],"range":[7,87],"paddingInner":0.35,"paddingOuter":0.36},"axis":{"title":null,"labelAngle":270,"offset":-40,"labelExpr":"split(datum.label,'|')[1]"}},
"y":{"field":"y","type":"quantitative","stack":null,"scale":{"domain":[0,1],"range":[135,74]},"axis":{"title":"Fraction of input (%)","values":[0,0.2,0.4,0.6,0.8,1],"format":".1f","offset":-7,"titlePadding":6}}},
"layer":[
{"data":{"name":"c2"},"mark":{"type":"bar","stroke":"#222222","strokeWidth":0.7},"encoding":{"color":{"field":"x","type":"nominal","scale":{"domain":["DLD1|IgG","DLD1|D/B mix","SKBR7|IgG","SKBR7|D/B mix"],"range":["#0a7a0a","#a8f8a0","#f01010","#ff8c8c"]},"legend":null}}},
{"data":{"name":"c2"},"mark":{"type":"rule","color":"#222222","strokeWidth":0.8},"encoding":{"y2":{"field":"hi"}}},
{"data":{"name":"c2"},"mark":{"type":"tick","orient":"horizontal","size":6,"thickness":0.8,"color":"#222222"},"encoding":{"y":{"field":"hi","type":"quantitative","scale":{"domain":[0,1]}}}},
{"data":{"name":"c2b"},"mark":{"type":"line","color":"#333333","strokeWidth":0.7,"point":{"shape":"M0,-0.5L0,0.5","size":12,"filled":false,"stroke":"#333333","strokeWidth":0.7}},"encoding":{"detail":{"field":"id"}}},
{"data":{"name":"c2s"},"transform":[{"filter":"!datum.h"}],"mark":{"type":"text","fontSize":9,"dy":2},"encoding":{"text":{"field":"s"}}},
{"data":{"name":"c2s"},"transform":[{"filter":"datum.h"}],"mark":{"type":"text","fontSize":9,"dy":2,"dx":9.15},"encoding":{"text":{"field":"s"}}},
{"data":{"name":"c2t"},"mark":{"type":"text","dx":2},"encoding":{"text":{"field":"a"}}},
{"data":{"name":"c2t"},"mark":{"type":"text","dx":8,"dy":12,"align":"right","fontStyle":"italic"},"encoding":{"text":{"field":"b"}}},
{"data":{"name":"c2t"},"mark":{"type":"text","dx":11,"dy":12,"align":"left","text":"gene"},"encoding":{}},
{"data":{"name":"cG"},"mark":{"type":"rule","color":"#333333","strokeWidth":0.8,"xOffset":-6,"x2Offset":4},"encoding":{"x2":{"field":"x2"}}},
{"data":{"name":"cGt"},"mark":{"type":"text","dx":9},"encoding":{"text":{"field":"s"}}}
]},

{"width":190,"height":128,"title":{"text":"d","offset":-46},
"encoding":{"x":{"field":"x","type":"quantitative","scale":{"domain":[0,3],"range":[37,118]},"axis":{"orient":"top","title":null,"offset":-98,"domain":false,"ticks":false,"labelAngle":315,"labelPadding":3,"values":[0.35,1.35,2.3],"labelExpr":"datum.value<1?'Untransf.':datum.value<2?'siCTL':'siGATA3'"}},
"y":{"field":"y","type":"quantitative","scale":{"domain":[37,64],"range":[125,98]},"axis":{"title":null,"domain":false,"offset":-37,"values":[50]}}},
"layer":[
{"data":{"name":"d1f"},"mark":{"type":"rect","fill":"#ececec","stroke":"#222222","strokeWidth":1.1},"encoding":{"x2":{"field":"x2"},"y2":{"field":"y2"}}},
{"data":{"name":"d1"},"mark":{"type":"rect","fill":"#000000"},"encoding":{"x2":{"field":"x2"},"y2":{"field":"y2"},"opacity":{"field":"i","type":"quantitative","scale":{"domain":[0,1],"range":[0,1]},"legend":null}}},
{"data":{"name":"d1t"},"mark":{"type":"text","align":"left"},"encoding":{"text":{"field":"s"}}},
{"data":{"name":"d1k"},"mark":{"type":"text","align":"right","dx":-1},"encoding":{"text":{"field":"s"}}},
{"data":{"name":"d1h"},"mark":{"type":"text"},"encoding":{"text":{"field":"s"}}},
{"data":{"name":"d1l"},"mark":{"type":"rule","color":"#222222","strokeWidth":0.8},"encoding":{"x2":{"field":"x2"}}}
]},
{"width":72,"height":128,"title":{"text":"e","offset":-46,"dx":-18},
"encoding":{"x":{"field":"x","type":"quantitative","scale":{"domain":[0,2],"range":[22,68]},"axis":{"orient":"top","title":null,"offset":-121.7,"domain":false,"ticks":false,"labelAngle":270,"labelPadding":4,"values":[0.64,1.51],"labelExpr":"datum.value<1?'siCTL':'siGATA3'"}},
"y":{"field":"y","type":"quantitative","scale":{"domain":[34,35,50,75,100,130,150,300],"range":[222.3,220,188.3,166.3,148.3,130.7,121.7,63.3]},"axis":{"title":null,"domain":false,"offset":-22,"values":[35,50,75,100,130],"labelExpr":"datum.value==130?'130 kDa':datum.label"}}},
"layer":[
{"data":{"name":"eLf"},"mark":{"type":"rect","fill":"#f2f2f2","stroke":"#222222","strokeWidth":1.1},"encoding":{"x2":{"field":"x2"},"y2":{"field":"y2"}}},
{"data":{"name":"eL"},"mark":{"type":"rect","fill":"#000000"},"encoding":{"x2":{"field":"x2"},"y2":{"field":"y2"},"opacity":{"field":"i","type":"quantitative","scale":{"domain":[0,1],"range":[0,1]},"legend":null}}},
{"data":{"name":"eLh"},"mark":{"type":"text"},"encoding":{"text":{"field":"s"}}},
{"data":{"name":"eLl"},"mark":{"type":"rule","color":"#333333","strokeWidth":0.8},"encoding":{"x2":{"field":"x2"}}}
]},
{"width":138,"height":128,
"encoding":{"x":{"field":"x","type":"quantitative","scale":{"domain":[0,4],"range":[3,92]},"axis":{"orient":"top","title":null,"offset":-121.7,"domain":false,"ticks":false,"labelAngle":270,"labelPadding":4,"values":[0.5,1.5,2.55,3.53],"labelExpr":"floor(datum.value)%2==0?'siCTL':'siGATA3'"}},
"y":{"field":"y","type":"quantitative","scale":{"domain":[34,35,50,75,100,130,150,300],"range":[222.3,220,188.3,166.3,148.3,130.7,121.7,63.3]},"axis":null}},
"layer":[
{"data":{"name":"eRf"},"mark":{"type":"rect","fill":"#f2f2f2","stroke":"#222222","strokeWidth":1.1},"encoding":{"x2":{"field":"x2"},"y2":{"field":"y2"}}},
{"data":{"name":"eR"},"mark":{"type":"rect","fill":"#000000"},"encoding":{"x2":{"field":"x2"},"y2":{"field":"y2"},"opacity":{"field":"i","type":"quantitative","scale":{"domain":[0,1],"range":[0,1]},"legend":null}}},
{"data":{"name":"eRt"},"mark":{"type":"text","align":"left"},"encoding":{"text":{"field":"s"}}},
{"data":{"name":"eRh"},"mark":{"type":"text"},"encoding":{"text":{"field":"s"}}},
{"data":{"name":"eRl"},"mark":{"type":"rule","color":"#333333","strokeWidth":0.8},"encoding":{"x2":{"field":"x2"}}}
]},
{"width":135,"height":128,"title":{"text":"f","offset":-46,"dx":12},
"encoding":{"x":{"field":"x","type":"nominal","scale":{"type":"band","domain":["Medium","TNF","TNF+VEGFA"],"range":[49,108],"paddingInner":0.35,"paddingOuter":0.41},"axis":{"title":null,"offset":-1.3,"labelAngle":315,"labelAlign":"right","labelBaseline":"top"}},
"y":{"field":"y","type":"quantitative","stack":null,"scale":{"domain":[0,5],"range":[126.7,76.7]},"axis":{"title":["Relative","intensity (a.u.)"],"values":[0,1,2,3,4,5],"offset":-49,"titlePadding":4}}},
"layer":[
{"data":{"name":"f1"},"mark":{"type":"bar","stroke":"#222222","strokeWidth":0.7},"encoding":{"color":{"field":"x","type":"nominal","scale":{"domain":["Medium","TNF","TNF+VEGFA"],"range":["#000000","#4f8fe6","#0a7a0a"]},"legend":null}}},
{"data":{"name":"f1t"},"mark":{"type":"text"},"encoding":{"text":{"field":"a"}}},
{"data":{"name":"f1t"},"mark":{"type":"text","dy":12},"encoding":{"text":{"field":"b"}}}
]},
{"width":150,"height":128,"title":{"text":"g","offset":-44,"dx":1},
"encoding":{"x":{"field":"x","type":"nominal","scale":{"type":"band","domain":["TNF|siCTL","TNF|siGATA3"," |","TNF+VEGF-A|siCTL","TNF+VEGF-A|siGATA3"],"range":[43,148],"paddingInner":0.34,"paddingOuter":0.22},"axis":{"title":null,"offset":-2,"labelAngle":315,"labelAlign":"right","labelBaseline":"top","labelExpr":"split(datum.label,'|')[1]"}},
"y":{"field":"y","type":"quantitative","stack":null,"scale":{"domain":[0,80],"range":[126,72.7]},"axis":{"title":["Transmigration","rate (%)"],"values":[0,20,40,60,80],"offset":-43,"titlePadding":4}}},
"layer":[
{"data":{"name":"g1"},"mark":{"type":"bar","stroke":"#222222","strokeWidth":0.7},"encoding":{"color":{"field":"x","type":"nominal","scale":{"domain":["TNF|siCTL","TNF|siGATA3","TNF+VEGF-A|siCTL","TNF+VEGF-A|siGATA3"],"range":["#4f8fe6","#4f8fe6","#0a7a0a","#0a7a0a"]},"legend":null}}},
{"data":{"name":"g1"},"mark":{"type":"rule","color":"#222222","strokeWidth":0.8},"encoding":{"y2":{"field":"hi"}}},
{"data":{"name":"g1"},"mark":{"type":"tick","orient":"horizontal","size":7,"thickness":0.8,"color":"#222222"},"encoding":{"y":{"field":"hi","type":"quantitative","scale":{"domain":[0,80]}}}},
{"data":{"name":"g1b"},"mark":{"type":"line","color":"#333333","strokeWidth":0.7,"point":{"shape":"M0,-0.5L0,0.5","size":12,"filled":false,"stroke":"#333333","strokeWidth":0.7}},"encoding":{"detail":{"field":"id"}}},
{"data":{"name":"g1s"},"transform":[{"filter":"!datum.h"}],"mark":{"type":"text","fontSize":8,"dy":2,"dx":-3},"encoding":{"text":{"field":"s"}}},
{"data":{"name":"g1s"},"transform":[{"filter":"datum.h"}],"mark":{"type":"text","fontSize":8,"dy":2,"dx":10},"encoding":{"text":{"field":"s"}}},
{"data":{"name":"g1t"},"mark":{"type":"text"},"encoding":{"text":{"field":"a"}}},
{"data":{"name":"gG1"},"mark":{"type":"rule","color":"#333333","strokeWidth":0.8,"xOffset":-13,"x2Offset":15},"encoding":{"x2":{"field":"x2"}}},
{"data":{"name":"gG2"},"mark":{"type":"rule","color":"#333333","strokeWidth":0.8,"xOffset":-19,"x2Offset":27},"encoding":{"x2":{"field":"x2"}}},
{"data":{"name":"gGt"},"mark":{"type":"text","dx":3},"encoding":{"text":{"field":"s"}}}
]},

{"width":190,"height":37,
"encoding":{"x":{"field":"x","type":"quantitative","scale":{"domain":[0,3],"range":[37,118]},"axis":null},
"y":{"field":"y","type":"quantitative","scale":{"domain":[26.7,55.7],"range":[32,3]},"axis":{"title":null,"domain":false,"offset":-37,"values":[50]}}},
"layer":[
{"data":{"name":"d2f"},"mark":{"type":"rect","fill":"#f0f0f0","stroke":"#222222","strokeWidth":1.1},"encoding":{"x2":{"field":"x2"},"y2":{"field":"y2"}}},
{"data":{"name":"d2"},"mark":{"type":"rect","fill":"#000000"},"encoding":{"x2":{"field":"x2"},"y2":{"field":"y2"},"opacity":{"field":"i","type":"quantitative","scale":{"domain":[0,1],"range":[0,1]},"legend":null}}},
{"data":{"name":"d2t"},"mark":{"type":"text","align":"left"},"encoding":{"text":{"field":"s"}}}
]},
{"width":72,"height":37,
"encoding":{"x":{"field":"x","type":"quantitative","scale":{"domain":[0,2],"range":[22,68]},"axis":null},
"y":{"field":"y","type":"quantitative","scale":{"domain":[25,55],"range":[133,103]},"axis":{"title":null,"domain":false,"offset":-22,"values":[50]}}},
"layer":[
{"data":{"name":"eLaf"},"mark":{"type":"rect","fill":"#f2f2f2","stroke":"#222222","strokeWidth":1.1},"encoding":{"x2":{"field":"x2"},"y2":{"field":"y2"}}},
{"data":{"name":"eLa"},"mark":{"type":"rect","fill":"#000000"},"encoding":{"x2":{"field":"x2"},"y2":{"field":"y2"},"opacity":{"field":"i","type":"quantitative","scale":{"domain":[0,1],"range":[0,1]},"legend":null}}}
]},
{"width":138,"height":37,
"encoding":{"x":{"field":"x","type":"quantitative","scale":{"domain":[0,4],"range":[3,92]},"axis":null},
"y":{"field":"y","type":"quantitative","scale":{"domain":[25,55],"range":[134,103]},"axis":null}},
"layer":[
{"data":{"name":"eRaf"},"mark":{"type":"rect","fill":"#f2f2f2","stroke":"#222222","strokeWidth":1.1},"encoding":{"x2":{"field":"x2"},"y2":{"field":"y2"}}},
{"data":{"name":"eRa"},"mark":{"type":"rect","fill":"#000000"},"encoding":{"x2":{"field":"x2"},"y2":{"field":"y2"},"opacity":{"field":"i","type":"quantitative","scale":{"domain":[0,1],"range":[0,1]},"legend":null}}},
{"data":{"name":"eRat"},"mark":{"type":"text","align":"left"},"encoding":{"text":{"field":"s"}}}
]},
{"width":135,"height":37,
"encoding":{"x":{"field":"x","type":"nominal","scale":{"type":"band","domain":["Medium","TNF","TNF+VEGFA"],"range":[49,108],"paddingInner":0.35,"paddingOuter":0.41},"axis":{"title":null,"offset":98,"labelAngle":315,"labelAlign":"right","labelBaseline":"top"}},
"y":{"field":"y","type":"quantitative","stack":null,"scale":{"domain":[0,20],"range":[135,94]},"axis":{"title":["Relative","intensity (a.u.)"],"values":[0,5,10,15,20],"offset":-49,"titlePadding":4}}},
"layer":[
{"data":{"name":"f2"},"mark":{"type":"bar","stroke":"#222222","strokeWidth":0.7},"encoding":{"color":{"field":"x","type":"nominal","scale":{"domain":["Medium","TNF","TNF+VEGFA"],"range":["#000000","#4f8fe6","#0a7a0a"]},"legend":null}}},
{"data":{"name":"f2t"},"mark":{"type":"text"},"encoding":{"text":{"field":"a"}}},
{"data":{"name":"f2t"},"mark":{"type":"text","dy":12},"encoding":{"text":{"field":"b"}}}
]},
{"width":150,"height":37,
"encoding":{"x":{"field":"x","type":"nominal","scale":{"type":"band","domain":["TNF|siCTL","TNF|siGATA3"," |","TNF+VEGF-A|siCTL","TNF+VEGF-A|siGATA3"],"range":[43,148],"paddingInner":0.34,"paddingOuter":0.22},"axis":{"title":null,"offset":97.7,"labelAngle":315,"labelAlign":"right","labelBaseline":"top","labelExpr":"split(datum.label,'|')[1]"}},
"y":{"field":"y","type":"quantitative","stack":null,"scale":{"domain":[0,80],"range":[134.7,81.3]},"axis":{"title":["Transmigration","rate (%)"],"values":[0,20,40,60,80],"offset":-43,"titlePadding":4}}},
"layer":[
{"data":{"name":"g2"},"mark":{"type":"bar","stroke":"#222222","strokeWidth":0.7},"encoding":{"color":{"field":"x","type":"nominal","scale":{"domain":["TNF|siCTL","TNF|siGATA3","TNF+VEGF-A|siCTL","TNF+VEGF-A|siGATA3"],"range":["#4f8fe6","#4f8fe6","#0a7a0a","#0a7a0a"]},"legend":null}}},
{"data":{"name":"g2"},"mark":{"type":"rule","color":"#222222","strokeWidth":0.8},"encoding":{"y2":{"field":"hi"}}},
{"data":{"name":"g2"},"mark":{"type":"tick","orient":"horizontal","size":7,"thickness":0.8,"color":"#222222"},"encoding":{"y":{"field":"hi","type":"quantitative","scale":{"domain":[0,80]}}}},
{"data":{"name":"g2t"},"mark":{"type":"text"},"encoding":{"text":{"field":"a"}}},
{"data":{"name":"gG1"},"mark":{"type":"rule","color":"#333333","strokeWidth":0.8,"xOffset":-13,"x2Offset":15},"encoding":{"x2":{"field":"x2"}}},
{"data":{"name":"gG2"},"mark":{"type":"rule","color":"#333333","strokeWidth":0.8,"xOffset":-19,"x2Offset":27},"encoding":{"x2":{"field":"x2"}}},
{"data":{"name":"gGt"},"mark":{"type":"text","dx":3},"encoding":{"text":{"field":"s"}}}
]},

{"width":190,"height":148,"data":{"name":"d3"},"mark":{"type":"bar"},
"encoding":{"x":{"field":"x","type":"nominal","scale":{"type":"band","domain":["Untransf.","siCTL","siGATA3"],"range":[47,133],"paddingInner":0.35,"paddingOuter":0.35},"axis":{"title":null,"offset":-61,"labelAngle":315,"labelAlign":"right","labelBaseline":"top"}},
"y":{"field":"y","type":"quantitative","stack":null,"scale":{"domain":[0,108],"range":[87,31]},"axis":{"title":["Relative","intensity (a.u.)"],"values":[0,50,100],"offset":-47,"titlePadding":4}},
"color":{"field":"x","type":"nominal","scale":{"domain":["Untransf.","siCTL","siGATA3"],"range":["#000000","#a0a0a0","#808080"]},"legend":null}}}
]}
